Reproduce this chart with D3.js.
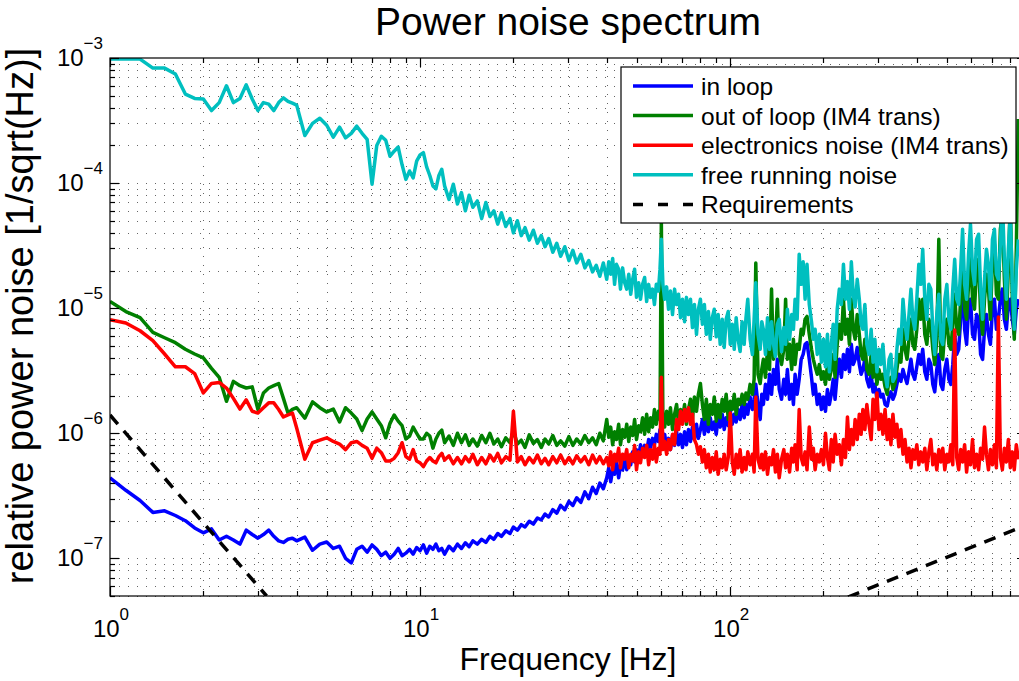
<!DOCTYPE html>
<html>
<head>
<meta charset="utf-8">
<script src="https://cdn.jsdelivr.net/npm/d3@7"></script>
<style>
  body { margin: 0; background: #fff; }
  svg { display: block; }
  text { font-family: "Liberation Sans", Arial, Helvetica, sans-serif; fill: #000; }
</style>
</head>
<body>
<div id="chart"></div>
<script>
// frequency bins (Hz) below 40 Hz, shared by every spectrum
var freqLow = [
  1, 1.125, 1.25, 1.375, 1.5, 1.625, 1.75, 1.875, 2, 2.125,
  2.25, 2.375, 2.5, 2.625, 2.75, 2.875, 3, 3.125, 3.25, 3.375,
  3.5, 3.625, 3.75, 3.875, 4, 4.25, 4.5, 4.75, 5, 5.25,
  5.5, 5.75, 6, 6.25, 6.5, 6.75, 7, 7.25, 7.5, 7.75,
  8, 8.25, 8.5, 8.75, 9, 9.25, 9.5, 9.75, 10, 10.25,
  10.5, 10.75, 11, 11.25, 11.5, 11.75, 12, 12.4, 12.8, 13.2,
  13.6, 14, 14.4, 14.8, 15.3, 15.8, 16.3, 16.8, 17.3, 17.8,
  18.3, 18.9, 19.5, 20, 20.6, 21.2, 21.8, 22.5, 23.2, 23.9,
  24.6, 25.3, 26, 26.8, 27.6, 28.4, 29.3, 30.2, 31.1, 32,
  33, 34, 35, 36, 37, 38, 39
];

// frequency bins (Hz) from 40 Hz up, denser
var freqHigh = [
  40, 40.6, 41.2, 41.8, 42.4, 43, 43.7, 44.3, 45, 45.7,
  46.4, 47.1, 47.8, 48.5, 49.2, 49.9, 50.7, 51.4, 52.2, 53,
  53.8, 54.6, 55.4, 56.2, 57, 57.8, 58.7, 59.4, 60, 60.7,
  61.5, 62.4, 63.3, 64.2, 65.2, 66.2, 67.2, 68.2, 69.2, 70.2,
  71.3, 72.3, 73.4, 74.5, 75.6, 76.7, 77.9, 79, 80.2, 81.4,
  82.6, 83.8, 85.1, 86.3, 87.6, 88.9, 90.2, 91.5, 92.9, 94.3,
  95.7, 97.1, 98.6, 100.1, 101.6, 103.1, 104.6, 106.1, 107.7, 109.3,
  111, 112.5, 114, 116, 118, 119.5, 121, 123, 125, 126.5,
  128, 130, 132, 134, 136, 138, 140, 142, 144, 146.5,
  149, 151, 153, 155.5, 158, 160, 162, 164.5, 167, 169.5,
  172, 174.5, 177, 180, 183, 185.5, 188, 191, 194, 197,
  200, 203, 206, 209, 212, 215, 218, 221.5, 225, 228.5,
  232, 235.5, 239, 242.5, 246, 249.5, 253, 257, 261, 264.5,
  268, 272, 276, 280.5, 285, 289, 293, 297.5, 302, 306.5,
  311, 316, 321, 325.5, 330, 335, 340, 345, 350, 355.5,
  361, 366.5, 372, 377.5, 383, 388.5, 394, 400, 406, 412,
  418, 424.5, 431, 437.5, 444, 450.5, 457, 464, 471, 478,
  485, 492.5, 500, 507.5, 515, 522.5, 530, 538, 546, 554,
  562, 570.5, 579, 587.5, 596, 605, 614, 623.5, 633, 642.5,
  652, 661.5, 671, 681, 691, 701.5, 712, 722.5, 733, 744,
  755, 766.5, 778, 789.5, 801, 813, 825, 837.5, 850
];

// relative power noise, in units of 1e-6 / sqrt(Hz)
var inLoopLow = [
  0.44, 0.35, 0.29, 0.233, 0.24, 0.22, 0.2, 0.175, 0.16, 0.172,
  0.14, 0.15, 0.14, 0.13, 0.168, 0.155, 0.145, 0.155, 0.168, 0.15,
  0.138, 0.134, 0.142, 0.145, 0.138, 0.148, 0.116, 0.13, 0.135, 0.12,
  0.125, 0.1, 0.092, 0.118, 0.125, 0.112, 0.128, 0.118, 0.105, 0.112,
  0.1, 0.108, 0.12, 0.105, 0.11, 0.118, 0.108, 0.122, 0.115, 0.128,
  0.11, 0.125, 0.118, 0.13, 0.115, 0.12, 0.108, 0.125, 0.115, 0.13,
  0.12, 0.133, 0.124, 0.138, 0.13, 0.142, 0.134, 0.15, 0.142, 0.158,
  0.15, 0.166, 0.158, 0.178, 0.168, 0.186, 0.178, 0.198, 0.188, 0.21,
  0.203, 0.226, 0.214, 0.245, 0.23, 0.265, 0.245, 0.285, 0.265, 0.305,
  0.28, 0.34, 0.3, 0.37, 0.33, 0.4, 0.36
];
var inLoopHigh = [
  0.44, 0.53, 0.41, 0.51, 0.47, 0.59, 0.44, 0.56, 0.51, 0.64,
  0.51, 0.64, 0.56, 0.71, 0.59, 0.74, 0.64, 0.81, 0.68, 0.8,
  0.71, 0.89, 0.77, 0.91, 0.81, 0.98, 0.86, 1.07, 0.89, 0.81,
  0.98, 0.77, 0.91, 0.74, 0.96, 0.8, 1.03, 0.81, 0.98, 0.77,
  1.03, 0.81, 1.07, 0.86, 1.12, 0.89, 1.18, 0.91, 1.07, 1.29,
  0.98, 1.29, 1.03, 1.33, 1.07, 1.23, 0.98, 1.33, 1.12, 1.42,
  1.07, 1.33, 1.15, 1.5, 1.18, 1.42, 1.23, 1.55, 1.29, 1.7,
  1.33, 1.7, 1.42, 1.95, 1.55, 1.87, 2.46, 1.7, 1.29, 2.05,
  1.7, 2.46, 1.87, 2.96, 2.05, 3.24, 2.46, 3.9, 2.24, 1.87,
  2.7, 2.05, 3.24, 1.87, 2.46, 1.7, 2.96, 2.05, 2.7, 3.9,
  4.27, 5.14, 5.3, 3.9, 2.8, 2.05, 2.46, 1.7, 2.05, 1.55,
  1.95, 1.5, 2.24, 1.7, 2.05, 2.7, 1.87, 2.96, 3.9, 2.8,
  4.27, 3.24, 4.69, 3.1, 5.14, 3.55, 3.9, 4.85, 3.55, 2.96,
  3.24, 3.9, 2.7, 2.35, 2.96, 2.14, 2.46, 1.87, 2.24, 1.95,
  2.05, 1.7, 1.65, 1.95, 2.14, 1.87, 2.05, 2.46, 2.96, 2.6,
  3.24, 2.8, 2.5, 3.1, 3.9, 2.96, 2.7, 3.4, 4.27, 3.55,
  4.69, 3.1, 2.7, 3.9, 3.55, 2.46, 2.14, 3.24, 4.27, 2.46,
  2.24, 3.24, 3.9, 2.7, 2.46, 3.55, 6.18, 4.27, 4.69, 8.15,
  19.7, 6.78, 5.14, 9.8, 11.8, 6.18, 5.64, 8.9, 8.15, 4.27,
  3.9, 6.78, 8.9, 6.18, 5.14, 9.8, 11.8, 6.78, 8.15, 11.8,
  14.2, 8.15, 6.78, 10.7, 11.8, 8.15, 6.18, 9.8, 11.8
];

var outOfLoopLow = [
  11.3, 9.4, 8.4, 6.4, 5.8, 5.3, 4.7, 4.3, 4.0, 3.3,
  2.8, 1.8, 2.6, 2.4, 2.3, 2.35, 1.55, 2.1, 2.3, 2.4,
  2.5, 1.9, 1.45, 1.55, 1.6, 1.32, 1.78, 1.6, 1.48, 1.56,
  1.23, 1.6, 1.45, 1.3, 1.05, 1.3, 1.48, 1.3, 1.15, 0.92,
  1.2, 1.4, 1.25, 1.15, 0.9, 0.95, 1.12, 1.0, 0.9, 0.9,
  1.0, 0.95, 0.76, 0.9, 1.0, 1.06, 0.84, 0.95, 0.8, 1.0,
  0.84, 0.97, 0.8, 0.9, 0.79, 0.96, 0.84, 1.0, 0.82, 0.9,
  0.78, 0.92, 0.84, 1.05, 0.82, 0.88, 0.77, 0.97, 0.83, 0.89,
  0.77, 0.9, 0.82, 0.96, 0.8, 0.87, 0.79, 0.94, 0.8, 0.9,
  0.82, 0.96, 0.84, 0.92, 0.81, 1.0, 0.87
];
var outOfLoopHigh = [
  1.29, 0.93, 1.12, 0.81, 1.03, 0.89, 1.18, 0.81, 1.07, 0.93,
  1.18, 0.86, 1.12, 0.96, 1.29, 0.89, 1.15, 1.03, 1.33, 0.98,
  1.42, 1.03, 1.33, 1.12, 1.55, 1.18, 1.5, 1.29, 51, 1.33,
  1.12, 1.5, 1.18, 1.6, 1.07, 1.42, 1.7, 1.18, 1.55, 1.29,
  1.7, 1.18, 1.55, 1.87, 1.29, 1.95, 1.5, 2.05, 2.5, 1.7,
  1.29, 1.87, 1.18, 1.7, 1.42, 1.95, 1.25, 1.7, 1.33, 1.87,
  1.5, 2.05, 1.29, 1.8, 1.55, 2.05, 1.42, 1.87, 1.7, 2.05,
  1.7, 2.1, 1.87, 2.46, 2.05, 2.7, 23, 2.96, 2.5, 3.24,
  3.9, 2.8, 4.69, 3.24, 14.2, 3.9, 5.14, 11.8, 4.27, 3.55,
  4.69, 11.8, 3.9, 5.14, 3.24, 5.64, 3.55, 5.14, 4.69, 6.78,
  6.18, 8.15, 8.6, 6.18, 4.69, 3.9, 3.4, 2.96, 3.55, 2.7,
  3.1, 2.46, 3.55, 2.7, 3.24, 4.27, 2.8, 5.14, 7.43, 5.64,
  11.8, 6.18, 8.15, 5.14, 11.8, 6.78, 5.64, 8.9, 6.18, 4.27,
  3.9, 5.64, 3.24, 2.96, 4.27, 2.8, 3.55, 2.46, 3.24, 2.7,
  2.96, 2.35, 2.05, 2.7, 2.8, 2.24, 2.46, 3.24, 4.27, 3.7,
  6.78, 4.69, 3.9, 5.64, 8.15, 5.14, 4.69, 6.78, 11.8, 8.15,
  11.8, 6.18, 5.14, 8.15, 7.43, 4.69, 3.55, 5.64, 35.5, 4.27,
  3.9, 6.78, 8.15, 5.14, 4.69, 7.43, 12.9, 6.78, 6.18, 11.8,
  22.4, 9.8, 8.15, 15.5, 27, 11.8, 9.8, 20.5, 24.6, 8.9,
  6.18, 11.8, 18.7, 14.2, 8.15, 24.6, 32.4, 12.9, 11.8, 42.7,
  56.4, 17, 8.15, 20.5, 74.4, 11.8, 5.64, 29.6, 325
];

var electronicsLow = [
  8.1, 7.6, 6.6, 5.5, 4.3, 3.4, 3.4, 3.0, 2.1, 2.5,
  2.55, 2.3, 1.9, 1.56, 1.85, 1.5, 1.45, 1.6, 1.75, 1.75,
  1.55, 1.35, 1.4, 1.45, 1.1, 0.62, 0.84, 0.88, 0.92, 0.86,
  0.82, 0.74, 0.84, 0.86, 0.8, 0.76, 0.63, 0.76, 0.7, 0.6,
  0.6, 0.63, 0.7, 0.84, 0.65, 0.62, 0.74, 0.6, 0.58, 0.54,
  0.6, 0.64, 0.6, 0.58, 0.65, 0.69, 0.61, 0.66, 0.57, 0.64,
  0.57, 0.65, 0.59, 0.68, 0.56, 0.64, 0.57, 0.67, 0.6, 0.69,
  0.58, 0.65, 0.61, 1.5, 0.59, 0.65, 0.56, 0.64, 0.58, 0.67,
  0.57, 0.63, 0.56, 0.65, 0.58, 0.67, 0.57, 0.64, 0.57, 0.66,
  0.59, 0.65, 0.56, 0.67, 0.58, 0.65, 0.57
];
var electronicsHigh = [
  0.64, 0.55, 0.71, 0.51, 0.68, 0.6, 0.76, 0.53, 0.68, 0.62,
  0.74, 0.53, 0.68, 0.6, 0.8, 0.51, 0.71, 0.58, 0.76, 0.64,
  0.8, 0.56, 0.74, 0.62, 0.81, 0.59, 0.76, 0.68, 2.8, 0.74,
  0.86, 0.68, 0.89, 0.74, 0.98, 0.81, 1.29, 1.07, 1.5, 1.18,
  1.55, 1.25, 1.6, 1.18, 1.42, 0.89, 0.81, 0.68, 0.78, 0.59,
  0.74, 0.53, 0.68, 0.49, 0.64, 0.51, 0.71, 0.47, 0.62, 0.53,
  0.68, 0.51, 0.64, 1.45, 0.59, 0.47, 0.68, 0.53, 0.74, 0.49,
  0.64, 0.51, 0.71, 0.56, 0.68, 0.49, 1.95, 0.62, 0.53, 0.68,
  0.51, 0.71, 0.47, 0.64, 0.56, 0.74, 0.49, 0.68, 0.44, 0.62,
  0.74, 0.53, 0.68, 0.49, 0.76, 0.59, 0.81, 0.51, 1.55, 0.64,
  0.56, 0.71, 0.51, 1.12, 0.62, 0.76, 0.51, 0.68, 0.59, 0.74,
  0.56, 1.0, 0.64, 0.51, 0.89, 0.59, 0.98, 0.68, 0.81, 0.56,
  0.89, 0.64, 1.35, 0.74, 1.07, 0.81, 1.29, 0.89, 1.42, 0.98,
  1.55, 1.07, 1.7, 1.18, 0.89, 1.87, 1.29, 2.1, 1.07, 1.42,
  0.98, 1.55, 0.89, 1.29, 0.81, 1.42, 0.93, 1.18, 0.78, 1.07,
  0.68, 0.89, 0.59, 0.76, 0.53, 0.74, 0.62, 0.81, 0.56, 0.71,
  0.59, 0.76, 0.51, 0.71, 0.89, 0.56, 0.68, 0.51, 0.74, 0.59,
  0.76, 0.51, 0.68, 0.59, 0.81, 0.56, 6.7, 0.64, 0.51, 0.74,
  0.59, 0.81, 0.49, 0.71, 0.56, 0.89, 0.53, 0.68, 0.51, 0.76,
  0.62, 1.12, 0.68, 0.51, 0.74, 0.56, 0.81, 0.53, 8.5, 0.64,
  0.51, 0.76, 0.59, 0.89, 0.53, 0.71, 0.51, 0.81, 0.62
];

var freeRunningLow = [
  980, 980, 980, 830, 830, 745, 515, 475, 470, 380,
  440, 600, 440, 475, 610, 470, 380, 440, 428, 380,
  440, 480, 450, 435, 420, 240, 300, 330, 290, 233,
  280, 230, 250, 285, 250, 224, 98, 200, 237, 220,
  164, 180, 194, 140, 107, 125, 110, 150, 168, 175,
  135, 115, 95, 90, 115, 129, 95, 74, 98, 68,
  84, 60, 80, 64, 72, 52, 70, 54, 60, 47,
  58, 45, 52, 40, 50, 38, 44, 35, 42, 33,
  38, 31, 36, 28, 33, 26, 31, 24, 29, 23,
  27, 21, 24, 19.5, 22, 18, 23
];
var freeRunningHigh = [
  17, 23.5, 18.7, 25, 15.5, 22.4, 20.5, 14.2, 21, 16,
  14.2, 18.7, 12.9, 17, 20.5, 12.2, 16, 11.8, 15.5, 17.6,
  11.3, 15.5, 12.2, 14.2, 10.7, 15.5, 13.7, 20.5, 35.5, 15.5,
  11.8, 14.8, 9.8, 13.7, 8.9, 14.2, 10.7, 12.9, 8.4, 11.8,
  7.8, 12.2, 8.9, 11.8, 7.0, 10.7, 6.18, 9.8, 11.8, 7.43,
  10.7, 6.18, 9.4, 5.64, 8.4, 9.8, 5.9, 8.9, 5.14, 8.15,
  4.85, 8.15, 9.4, 5.14, 7.43, 4.69, 8.4, 5.64, 4.5, 7.8,
  5.14, 8.4, 11.8, 5.64, 4.27, 8.15, 16, 6.18, 4.69, 7.8,
  6.78, 4.27, 8.4, 4.69, 7.8, 5.14, 4.1, 7.43, 8.15, 4.5,
  7.0, 5.14, 9.8, 5.64, 8.9, 6.78, 11.8, 8.15, 27, 15.5,
  23.5, 11.8, 22.4, 10.7, 7.8, 5.64, 6.78, 4.27, 6.18, 3.7,
  5.64, 3.4, 6.18, 3.1, 5.14, 7.43, 3.9, 9.8, 14.2, 10.7,
  22.4, 11.8, 16.3, 9.8, 23.5, 12.9, 10.2, 17, 11.8, 7.43,
  6.78, 10.7, 5.14, 4.27, 6.78, 3.7, 5.64, 3.1, 4.69, 3.55,
  5.14, 2.96, 2.35, 3.9, 4.27, 2.6, 2.8, 4.69, 6.78, 5.14,
  11.8, 7.43, 5.64, 8.9, 14.2, 8.15, 6.78, 11.8, 22.4, 15.5,
  29.6, 11.8, 8.15, 15.5, 14.2, 6.78, 4.27, 8.9, 12.9, 5.64,
  5.14, 11.8, 15.5, 8.15, 6.78, 14.2, 24.6, 11.8, 10.7, 20.5,
  42.7, 15.5, 11.8, 27, 46.9, 20.5, 15.5, 35.5, 39, 14.2,
  8.15, 17, 29.6, 22.4, 11.8, 35.5, 42.7, 18.7, 17, 32.4,
  74.4, 24.6, 11.8, 29.6, 56.4, 15.5, 6.78, 20.5, 35.5
];

// requirement curve: two straight pieces (log-log), same units
var reqLowFreq = [1, 3.2];
var reqLowValue = [1.4, 0.05];
var reqHighFreq = [240, 900];
var reqHighValue = [0.049, 0.184];

var seriesNames = ["in loop", "out of loop (IM4 trans)", "electronics noise (IM4 trans)", "free running noise", "Requirements"];
var seriesColors = ["#0000ff", "#008000", "#ff0000", "#00bfbf", "#000000"];

var W = 1019, H = 681;
var plotL = 110, plotR = 1026, plotT = 58, plotB = 596;
var unit = 1e-6;

var x = d3.scaleLog().domain([1, 900]).range([plotL, plotR]);
var y = d3.scaleLog().domain([5e-8, 1e-3]).range([plotB, plotT]);

var svg = d3.select("#chart").append("svg")
  .attr("width", W)
  .attr("height", H);

svg.append("rect").attr("width", W).attr("height", H).attr("fill", "#fff");

svg.append("defs").append("clipPath").attr("id", "plotclip")
  .append("rect")
  .attr("x", plotL).attr("y", plotT)
  .attr("width", plotR - plotL).attr("height", plotB - plotT);

function isMajor(v) {
  var l = Math.log10(v);
  return Math.abs(l - Math.round(l)) < 1e-6;
}

var xTicks = x.ticks();
var yTicks = y.ticks();

// dotted grid (major and minor)
var grid = svg.append("g")
  .attr("stroke", "#000")
  .attr("stroke-width", 1)
  .attr("stroke-dasharray", "1,8")
  .attr("opacity", 0.6)
  .attr("shape-rendering", "crispEdges");

grid.selectAll("line.gx")
  .data(xTicks.filter(function(d) { return x(d) > plotL + 1; }))
  .enter().append("line")
  .attr("x1", function(d) { return Math.round(x(d)) + 0.5; })
  .attr("x2", function(d) { return Math.round(x(d)) + 0.5; })
  .attr("y1", plotT)
  .attr("y2", plotB);

grid.selectAll("line.gy")
  .data(yTicks.filter(function(d) { return y(d) > plotT + 1; }))
  .enter().append("line")
  .attr("y1", function(d) { return Math.round(y(d)) + 0.5; })
  .attr("y2", function(d) { return Math.round(y(d)) + 0.5; })
  .attr("x1", plotL)
  .attr("x2", plotR);

// spectra
var line = d3.line()
  .x(function(d) { return x(d[0]); })
  .y(function(d) { return y(d[1] * unit); });

function pairs(fs, vs) {
  return fs.map(function(f, i) { return [f, vs[i]]; });
}

var freq = freqLow.concat(freqHigh);
var spectra = [
  inLoopLow.concat(inLoopHigh),
  outOfLoopLow.concat(outOfLoopHigh),
  electronicsLow.concat(electronicsHigh),
  freeRunningLow.concat(freeRunningHigh)
];
var plot = svg.append("g").attr("clip-path", "url(#plotclip)");

spectra.forEach(function(vals, i) {
  plot.append("path")
    .datum(pairs(freq, vals))
    .attr("fill", "none")
    .attr("stroke", seriesColors[i])
    .attr("stroke-width", 3.5)
    .attr("stroke-linejoin", "round")
    .attr("d", line);
});

[pairs(reqLowFreq, reqLowValue), pairs(reqHighFreq, reqHighValue)].forEach(function(seg) {
  plot.append("path")
    .datum(seg)
    .attr("fill", "none")
    .attr("stroke", seriesColors[4])
    .attr("stroke-width", 3.5)
    .attr("stroke-dasharray", "12,9")
    .attr("d", line);
});

// axes box and inward ticks
var axes = svg.append("g").attr("stroke", "#000").attr("stroke-width", 1.2);
axes.append("rect")
  .attr("x", plotL).attr("y", plotT)
  .attr("width", plotR - plotL).attr("height", plotB - plotT)
  .attr("fill", "none");

xTicks.forEach(function(d) {
  var px = Math.round(x(d)) + 0.5;
  var len = isMajor(d) ? 9 : 5;
  axes.append("line").attr("x1", px).attr("x2", px).attr("y1", plotB).attr("y2", plotB - len);
  axes.append("line").attr("x1", px).attr("x2", px).attr("y1", plotT).attr("y2", plotT + len);
});
yTicks.forEach(function(d) {
  var py = Math.round(y(d)) + 0.5;
  var len = isMajor(d) ? 9 : 5;
  axes.append("line").attr("y1", py).attr("y2", py).attr("x1", plotL).attr("x2", plotL + len);
  axes.append("line").attr("y1", py).attr("y2", py).attr("x1", plotR).attr("x2", plotR - len);
});

// tick labels as 10^n
function powerLabel(sel, v) {
  var e = Math.round(Math.log10(v));
  sel.append("tspan").text("10");
  sel.append("tspan")
    .attr("dy", -17)
    .attr("font-size", 17)
    .text(e < 0 ? "\u2212" + (-e) : String(e));
}

xTicks.filter(isMajor).forEach(function(d) {
  var t = svg.append("text")
    .attr("x", x(d) + 1)
    .attr("y", 637)
    .attr("text-anchor", "middle")
    .attr("font-size", 24);
  powerLabel(t, d);
});

yTicks.filter(isMajor).forEach(function(d) {
  var t = svg.append("text")
    .attr("x", 103)
    .attr("y", y(d) + 8)
    .attr("text-anchor", "end")
    .attr("font-size", 24);
  powerLabel(t, d);
});

// titles
svg.append("text")
  .attr("x", (plotL + plotR) / 2)
  .attr("y", 34.5)
  .attr("text-anchor", "middle")
  .attr("font-size", 39)
  .text("Power noise spectrum");

svg.append("text")
  .attr("x", (plotL + plotR) / 2)
  .attr("y", 670)
  .attr("text-anchor", "middle")
  .attr("font-size", 32)
  .text("Frequency [Hz]");

svg.append("text")
  .attr("transform", "translate(33,316) rotate(-90)")
  .attr("text-anchor", "middle")
  .attr("font-size", 38)
  .text("relative power noise [1/sqrt(Hz)]");

// legend
var lg = svg.append("g").attr("transform", "translate(621,67)");
lg.append("rect")
  .attr("width", 395).attr("height", 156)
  .attr("fill", "#fff").attr("stroke", "#000").attr("stroke-width", 1.2);

seriesNames.forEach(function(name, i) {
  var cy = 19 + i * 29.6;
  var ln = lg.append("line")
    .attr("x1", 12).attr("x2", 72)
    .attr("y1", cy).attr("y2", cy)
    .attr("stroke", seriesColors[i])
    .attr("stroke-width", 3.5);
  if (i === 4) ln.attr("stroke-dasharray", "10,15");
  lg.append("text")
    .attr("x", 80)
    .attr("y", cy + 9)
    .attr("font-size", 24.5)
    .text(name);
});
</script>
</body>
</html>
